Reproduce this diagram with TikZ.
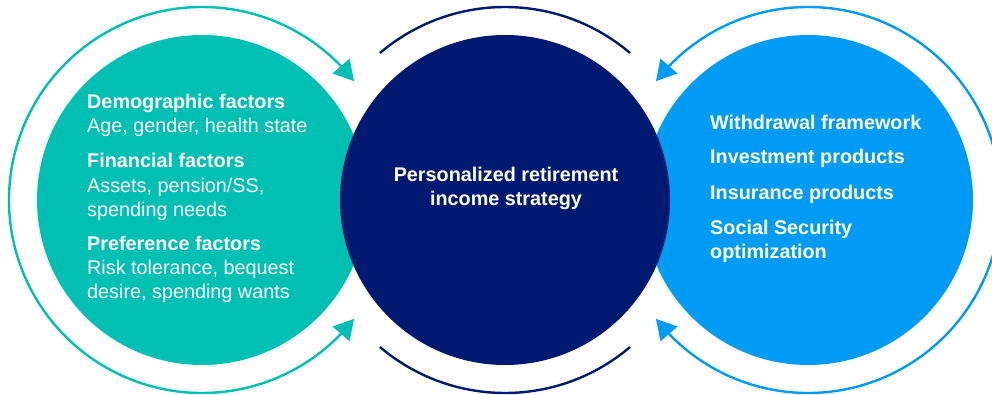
\documentclass[tikz,border=0pt]{standalone}
\usepackage{fontspec}
\setmainfont{Liberation Sans}
\usepackage{tikz}
\usetikzlibrary{arrows.meta, bending}
\definecolor{factorteal}{HTML}{00BFB3}
\definecolor{strategynavy}{HTML}{001A72}
\definecolor{solutionblue}{HTML}{009BF4}

\tikzset{
  bubble/.style={circle, minimum size=330pt, inner sep=0pt},
  ring/.style={line width=2.4pt},
  ringtips/.style={{Triangle[length=20pt,width=22pt]}-{Triangle[length=20pt,width=22pt]}},
  headline/.style={white, font=\fontsize{19.8}{20}\selectfont\bfseries, anchor=base west, inner sep=0pt},
  bodyline/.style={white, font=\fontsize{19.8}{20}\selectfont, anchor=base west, inner sep=0pt}
}

\begin{document}
\begin{tikzpicture}[x=1pt, y=1pt]
  \useasboundingbox (0,0) rectangle (992,394);

  % Bubbles - the strategy one sits on top of the other two
  \node[bubble, fill=factorteal] (inputs) at (202,194) {};
  \node[bubble, fill=solutionblue] (solutions) at (808,194) {};
  \node[bubble, fill=strategynavy] (strategy) at (505,194) {};

  % Loops around the outer bubbles, arrows pointing into the middle
  \draw[factorteal, ring, ringtips] ([shift={(38:193pt)}]inputs.center)
    arc[start angle=38, end angle=322, radius=193pt];
  \draw[solutionblue, ring, ringtips] ([shift={(142:193pt)}]solutions.center)
    arc[start angle=142, end angle=-142, radius=193pt];

  % Plain arcs above and below the strategy bubble
  \draw[strategynavy, ring] ([shift={(49.6:193pt)}]strategy.center)
    arc[start angle=49.6, end angle=130.4, radius=193pt];
  \draw[strategynavy, ring] ([shift={(229.6:193pt)}]strategy.center)
    arc[start angle=229.6, end angle=310.4, radius=193pt];

  % Left - input factors
  \node[headline] (demohead) at (87,285) {Demographic factors};
  \node[bodyline] (demotext) at (87,261) {Age, gender, health state};
  \node[headline] (finhead) at (87,226) {Financial factors};
  \node[bodyline] (fintexta) at (87,202) {Assets, pension/SS,};
  \node[bodyline] (fintextb) at (87,178) {spending needs};
  \node[headline] (prefhead) at (87,144) {Preference factors};
  \node[bodyline] (preftexta) at (87,120) {Risk tolerance, bequest};
  \node[bodyline] (preftextb) at (87,96) {desire, spending wants};

  % Center - the strategy
  \node[headline, anchor=base] (stratline) at (506,212) {Personalized retirement};
  \node[headline, anchor=base] (stratlineb) at (506,189) {income strategy};

  % Right - building blocks
  \node[headline] (withdraw) at (710,264) {Withdrawal framework};
  \node[headline] (invest) at (710,230) {Investment products};
  \node[headline] (insure) at (710,195) {Insurance products};
  \node[headline] (social) at (710,160) {Social Security};
  \node[headline] (socialb) at (710,136) {optimization};
\end{tikzpicture}
\end{document}
